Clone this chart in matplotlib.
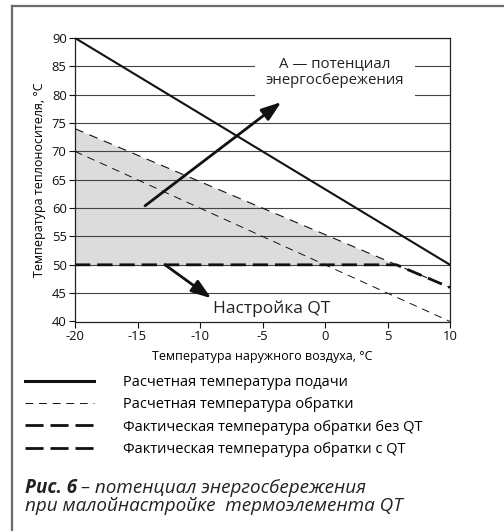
import numpy as np
import matplotlib.pyplot as plt
from matplotlib.lines import Line2D

plt.rcParams['font.family'] = ['Open Sans', 'DejaVu Sans']

# данные
t_out = [-20, 10]
t_supply = [90, 50]          # расчетная температура подачи
t_return = [70, 40]          # расчетная температура обратки
t_return_noqt = [74, 46]     # фактическая без QT
qt_limit = 50                # настройка QT

legend_labels = ['Расчетная температура подачи',
                 'Расчетная температура обратки',
                 'Фактическая температура обратки без QT',
                 'Фактическая температура обратки с QT']

fig = plt.figure(figsize=(5.04, 5.31), dpi=100)
ax = fig.add_axes([75/504, 1-321.5/531, 375/504, 283.5/531])

# сетка
for yv in range(45, 95, 5):
    ax.axhline(yv, color='#444444', lw=0.8, zorder=1)

x = np.linspace(t_out[0], t_out[1], 301)
y_noqt = np.interp(x, t_out, t_return_noqt)
y_qt = np.minimum(y_noqt, qt_limit)

# область потенциала
ax.fill_between(x, qt_limit, y_noqt, where=y_noqt >= qt_limit,
                color='#dcdcdc', lw=0, zorder=0.5)

ax.plot(t_out, t_supply, color='#111111', lw=1.5, zorder=3)
ax.plot(t_out, t_return, color='#111111', lw=0.7, dashes=(8, 6), zorder=3)
ax.plot(x, y_noqt, color='#111111', lw=0.8, dashes=(8, 6), zorder=3)
ax.plot(x, y_qt, color='#111111', lw=2.0, dashes=(5.5, 2.5), zorder=4)

# стрелки
arrow = dict(arrowstyle='-|>,head_length=1.0,head_width=0.35',
             color='#111111', lw=2.0, mutation_scale=12, shrinkA=0, shrinkB=0)
ax.annotate('', xy=(-3.5, 78.7), xytext=(-14.4, 60.4), arrowprops=arrow, zorder=5)
ax.annotate('', xy=(-9.1, 44.1), xytext=(-12.8, 50.0), arrowprops=arrow, zorder=5)

ax.text(0.8, 84.0, 'А — потенциал\nэнергосбережения', ha='center', va='center',
        fontsize=10.8, linespacing=1.25, color='#222222', zorder=6,
        bbox=dict(facecolor='white', edgecolor='none', pad=8))
ax.text(-4.3, 42.3, 'Настройка QT', ha='center', va='center',
        fontsize=12.5, color='#222222', zorder=6)

ax.set_xlim(-20, 10)
ax.set_ylim(40, 90)
ax.set_xticks(range(-20, 11, 5))
ax.set_yticks(range(40, 91, 5))
ax.set_xticklabels([str(v) for v in range(-20, 11, 5)])
ax.tick_params(direction='out', length=4, width=0.8, labelsize=9.4,
               colors='#111111', pad=2)
for s in ax.spines.values():
    s.set_linewidth(0.9)
    s.set_color('#222222')

ax.set_xlabel('Температура наружного воздуха, °C', fontsize=9, labelpad=5)
ax.set_ylabel('Температура теплоносителя, °C', fontsize=9, labelpad=4)

# легенда
handles = [Line2D([], [], color='#111111', lw=2.2),
           Line2D([], [], color='#111111', lw=0.7, dashes=(8, 6)),
           Line2D([], [], color='#111111', lw=2.0, dashes=(6.5, 2.5)),
           Line2D([], [], color='#111111', lw=2.0, dashes=(6.5, 2.5))]
fig.legend(handles, legend_labels, loc='upper left',
           bbox_to_anchor=(25/504, 1-375/531), frameon=False, fontsize=10.5,
           handlelength=4.7, handletextpad=2.0, labelspacing=0.5,
           borderaxespad=0, borderpad=0)

# рамка
fig.add_artist(Line2D([12/504, 1], [1-6/531, 1-6/531], color='#6b6b6b', lw=1.6))
fig.add_artist(Line2D([12/504, 12/504], [0, 1-6/531], color='#6b6b6b', lw=1.6))

# подпись
t1 = fig.text(25/504, 1-488/531, 'Рис. 6', fontsize=13.6, fontweight='bold',
              fontstyle='italic', va='center', color='#222222')
fig.canvas.draw()
bb = t1.get_window_extent()
fig.text(bb.x1/504 + 4/504, 1-488/531, '– потенциал энергосбережения',
         fontsize=13.6, fontstyle='italic', va='center', color='#222222')
fig.text(25/504, 1-506/531, 'при малойнастройке  термоэлемента QT',
         fontsize=13.6, fontstyle='italic', va='center', color='#222222')

fig.savefig('out.png', dpi=100)
